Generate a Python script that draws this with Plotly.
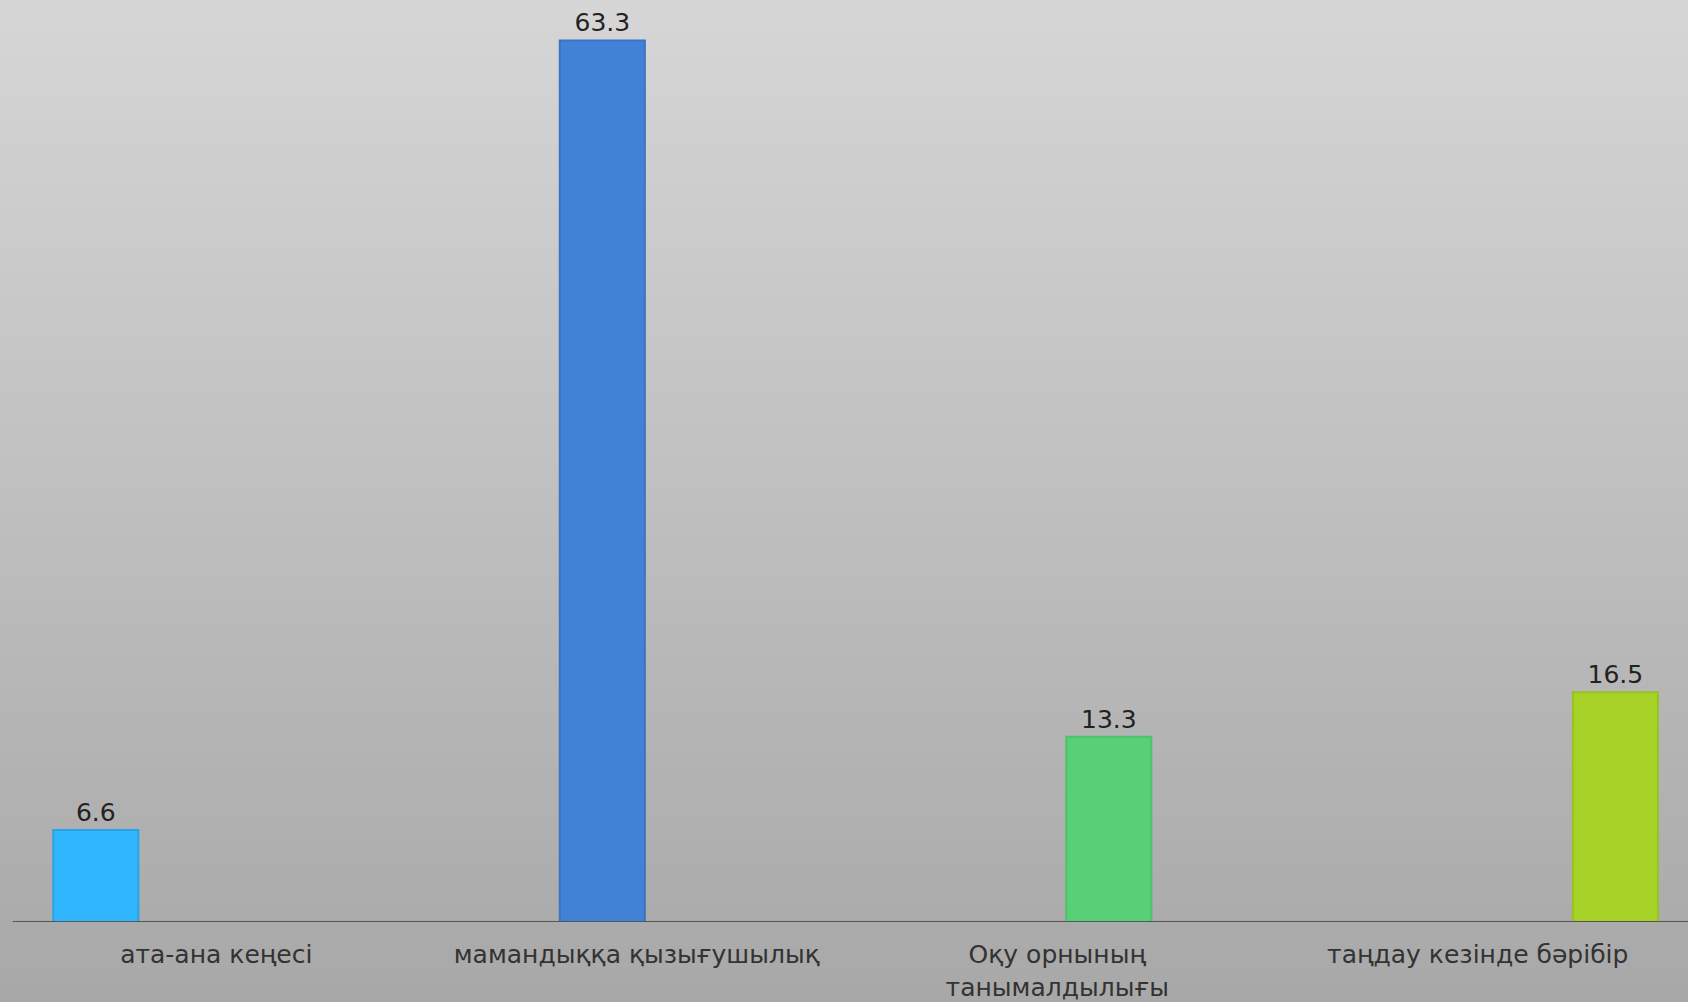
import plotly.graph_objects as go

categories = ["ата-ана кеңесі", "мамандыққа қызығушылық", "Оқу орнының<br>танымалдылығы", "таңдау кезінде бәрібір"]
values = [6.6, 63.3, 13.3, 16.5]
value_labels = ["6.6", "63.3", "13.3", "16.5"]
bar_colors = ["#2fb6ff", "#4282d6", "#58d078", "#a6d228"]
line_colors = ["#2aa3e6", "#3a74c4", "#4fc06c", "#98c21f"]

fig = go.Figure()

fig.add_trace(go.Bar(
    x=categories, y=values, xaxis="x2",
    text=value_labels, textposition="outside",
    textfont=dict(family="DejaVu Sans", size=25, color="#222222"),
    marker=dict(color=bar_colors, line=dict(color=line_colors, width=2)),
    width=0.168, cliponaxis=False, showlegend=False, hoverinfo="skip",
))
# invisible trace to place category labels on the label axis
fig.add_trace(go.Scatter(x=categories, y=[0]*len(categories), mode="markers",
                         marker=dict(opacity=0), showlegend=False, hoverinfo="skip"))

# background gradient strips
n = 120
top = (214, 214, 214)
bot = (168, 168, 168)
y_lo, y_hi = -0.09, 1.0
shapes = []
for i in range(n):
    t = i / (n - 1)
    c = tuple(int(round(top[k] + (bot[k] - top[k]) * t)) for k in range(3))
    y1 = y_hi - (y_hi - y_lo) * i / n
    y0 = y_hi - (y_hi - y_lo) * (i + 1) / n
    shapes.append(dict(type="rect", xref="paper", yref="paper", x0=-0.01, x1=1.01,
                       y0=y0 - 0.001, y1=y1 + 0.001, fillcolor="rgb(%d,%d,%d)" % c,
                       line=dict(width=0), layer="below"))
# baseline
shapes.append(dict(type="line", xref="paper", yref="y", x0=0.004, x1=1.0, y0=0, y1=0,
                   line=dict(color="#555555", width=2), layer="above"))

fig.update_layout(
    width=1688, height=1002,
    margin=dict(l=6, r=0, t=0, b=78),
    paper_bgcolor="#a8a8a8", plot_bgcolor="rgba(0,0,0,0)",
    shapes=shapes,
    xaxis=dict(type="category", categoryarray=categories, range=[-0.5, 3.5],
               showgrid=False, zeroline=False, showline=False, ticks="",
               ticklabelstandoff=15,
               tickfont=dict(family="DejaVu Sans", size=25, color="#333333")),
    xaxis2=dict(type="category", categoryarray=categories, overlaying="x",
                range=[-0.1773, 3.1435], visible=False),
    yaxis=dict(range=[0, 66.2], visible=False, showgrid=False, zeroline=False),
    font=dict(family="DejaVu Sans"),
)

fig.write_html("out.html", config={"displayModeBar": False},
               post_script="document.body.style.margin='0';document.body.style.background='#a8a8a8';")
